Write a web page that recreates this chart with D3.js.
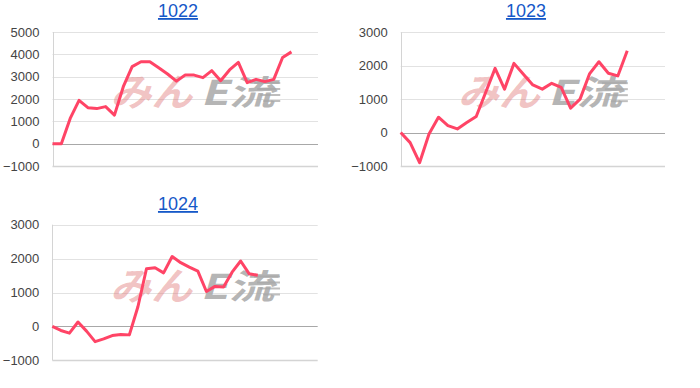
<!DOCTYPE html>
<html>
<head>
<meta charset="utf-8">
<script src="https://cdn.jsdelivr.net/npm/d3@7"></script>
<style>
  html, body { margin: 0; padding: 0; background: #fff; }
  svg { display: block; }
  .title { font-family: "Liberation Sans", Arial, sans-serif; font-size: 18px; fill: #1558c8; text-decoration: underline; }
  .tick text { font-family: "Liberation Sans", Arial, sans-serif; font-size: 13px; fill: #444; }
</style>
</head>
<body>
<svg id="chart" width="700" height="388"></svg>
<script>
// ---- data ----
const titles = ["1022", "1023", "1024"];
const series1022 = [0, 0, 1130, 1940, 1610, 1570, 1660, 1280, 2550, 3450, 3670, 3670, 3400, 3120, 2800,
  3070, 3070, 2955, 3270, 2820, 3300, 3640, 2730, 2880, 2780, 2880, 3860, 4110];
const series1023 = [0, -300, -900, -40, 460, 210, 110, 300, 480, 1200, 1920, 1300, 2070, 1745, 1425,
  1300, 1475, 1355, 730, 1000, 1755, 2120, 1775, 1695, 2450];
const series1024 = [0, -120, -200, 130, -140, -450, -370, -270, -240, -250, 580, 1700, 1730, 1580, 2060,
  1880, 1750, 1630, 1030, 1180, 1160, 1600, 1930, 1550, 1510];
const yTicks1022 = [-1000, 0, 1000, 2000, 3000, 4000, 5000];
const yTicks1023 = [-1000, 0, 1000, 2000, 3000];
const yTicks1024 = [-1000, 0, 1000, 2000, 3000];
const xDomainMax = [30, 28, 31];

// ---- layout ----
const panels = [
  { title: titles[0], data: series1022, ticks: yTicks1022, xMax: xDomainMax[0], left: 52.5, right: 318, top: 32, bottom: 166, titleX: 178, titleY: 17 },
  { title: titles[1], data: series1023, ticks: yTicks1023, xMax: xDomainMax[1], left: 400.7, right: 665, top: 32.3, bottom: 166, titleX: 526, titleY: 17 },
  { title: titles[2], data: series1024, ticks: yTicks1024, xMax: xDomainMax[2], left: 52.3, right: 317.7, top: 224.7, bottom: 360.3, titleX: 178, titleY: 210 }
];

const svg = d3.select("#chart");

panels.forEach(p => {
  const g = svg.append("g");
  const x = d3.scaleLinear().domain([0, p.xMax]).range([p.left, p.right]);
  const y = d3.scaleLinear().domain([d3.min(p.ticks), d3.max(p.ticks)]).range([p.bottom, p.top]);

  // title
  g.append("text").attr("class", "title")
    .attr("x", p.titleX).attr("y", p.titleY)
    .attr("text-anchor", "middle").text(p.title);

  // gridlines
  g.selectAll("line.grid").data(p.ticks).enter().append("line")
    .attr("x1", p.left).attr("x2", p.right)
    .attr("y1", d => Math.round(y(d)) + 0.5).attr("y2", d => Math.round(y(d)) + 0.5)
    .attr("stroke", d => d === 0 ? "#a8a8a8" : (d === d3.min(p.ticks) ? "#d4d4d4" : "#e2e2e2"))
    .attr("stroke-width", d => d === d3.min(p.ticks) ? 1.5 : 1);

  // vertical axis baseline
  g.append("line")
    .attr("x1", Math.round(p.left) + 0.5).attr("x2", Math.round(p.left) + 0.5)
    .attr("y1", p.top).attr("y2", p.bottom)
    .attr("stroke", "#d4d4d4");

  // y axis labels
  const axis = d3.axisLeft(y).tickValues(p.ticks).tickSize(0).tickPadding(13).tickFormat(d3.format("d"));
  const ag = g.append("g").attr("transform", `translate(${p.left},0)`).call(axis);
  ag.select(".domain").remove();

  // watermark
  const cx = (p.left + p.right) / 2 + 9;
  const cy = (p.top + p.bottom) / 2 - 7;
  const wm = g.append("g").attr("transform", `translate(${cx},${cy})`);
  wm.append("text").attr("x", -80).attr("y", 14)
    .attr("font-family", "Noto Sans CJK JP, sans-serif").attr("font-weight", "bold")
    .attr("font-size", 38)
    .attr("transform", "skewX(-16)")
    .attr("fill", "#e07a7a").attr("fill-opacity", 0.45)
    .attr("textLength", 82).attr("lengthAdjust", "spacingAndGlyphs").text("みん");
  wm.append("text").attr("x", 10).attr("y", 13)
    .attr("font-family", "Noto Sans CJK JP, sans-serif").attr("font-weight", "bold")
    .attr("font-size", 34)
    .attr("transform", "skewX(-16)")
    .attr("fill", "#a8a8a8").attr("fill-opacity", 0.85)
    .attr("textLength", 74).attr("lengthAdjust", "spacingAndGlyphs").text("E流");
  [-9, -3, 3, 9].forEach((dy, i) => {
    wm.append("line").attr("x1", 60 + i * 3).attr("x2", 86).attr("y1", dy).attr("y2", dy)
      .attr("stroke", "#a8a8a8").attr("stroke-opacity", 0.75).attr("stroke-width", 2);
  });

  // series line
  const line = d3.line().x((d, i) => x(i)).y(d => y(d));
  g.append("path").datum(p.data)
    .attr("d", line)
    .attr("fill", "none")
    .attr("stroke", "#ff4466")
    .attr("stroke-width", 3)
    .attr("stroke-linejoin", "round")
    .attr("stroke-linecap", "butt");
});
</script>
</body>
</html>
